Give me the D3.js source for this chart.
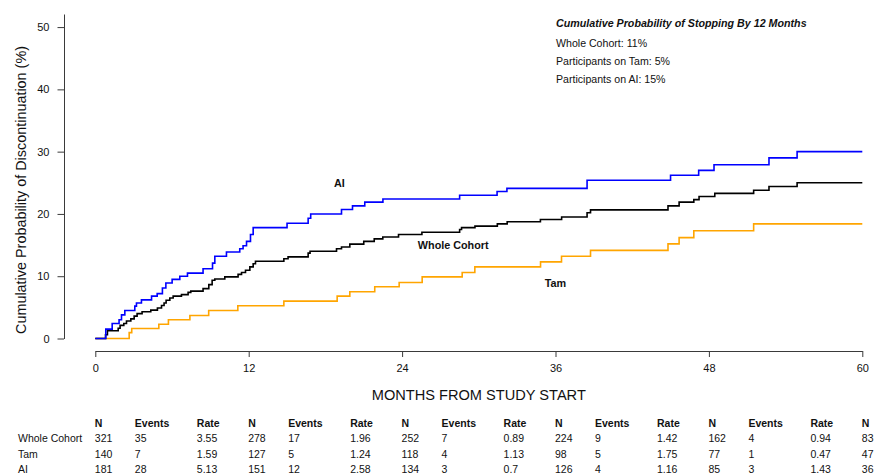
<!DOCTYPE html>
<html>
<head>
<meta charset="utf-8">
<script src="https://cdn.jsdelivr.net/npm/d3@7/dist/d3.min.js"></script>
<style>
  html, body { margin: 0; padding: 0; background: #fff; }
  svg { display: block; font-family: "Liberation Sans", Arial, Helvetica, sans-serif; }
</style>
</head>
<body>
<svg id="chart" width="874" height="476"></svg>
<script>
// Kaplan-Meier style cumulative discontinuation (%) by month
const wholeMonths = [0, 0.80, 0.95, 1.79, 1.94, 2.23, 2.44, 2.78, 3.04, 3.27, 3.66, 4.34, 4.86, 5.18, 5.38, 5.54, 5.83, 6.09, 6.74, 7.26, 7.47, 8.43, 8.88, 9.14, 9.35, 10.13, 11.17, 11.44, 11.75, 12.09, 12.35, 12.53, 14.75, 15.08, 16.65, 16.80, 18.87, 19.26, 19.91, 21.00, 21.82, 22.49, 23.72, 25.55, 28.50, 28.65, 29.70, 31.45, 32.22, 34.82, 36.48, 38.47, 38.74, 44.80, 45.67, 46.82, 47.23, 48.46, 51.50, 52.70, 54.90, 60];
const wholePct    = [0, 0.6, 1.25, 1.65, 2.1, 2.4, 2.8, 3.15, 3.6, 4.0, 4.3, 4.55, 4.9, 5.3, 5.7, 6.15, 6.5, 6.8, 7.05, 7.4, 7.6, 8.0, 8.65, 9.35, 9.55, 9.9, 10.3, 10.6, 10.95, 11.5, 12.0, 12.4, 12.8, 13.1, 13.7, 14.0, 14.4, 14.7, 15.15, 15.6, 16.0, 16.3, 16.7, 17.05, 17.5, 17.8, 18.05, 18.4, 18.75, 19.1, 19.5, 20.2, 20.65, 21.3, 21.9, 22.3, 22.8, 23.3, 23.8, 24.4, 25.0, 25.0];

const tamMonths = [0, 2.65, 2.85, 4.97, 5.72, 7.40, 8.87, 11.15, 14.75, 18.92, 19.91, 21.86, 23.77, 25.57, 28.70, 29.69, 34.83, 36.47, 38.74, 44.80, 45.67, 46.82, 51.50, 60];
const tamPct    = [0, 0.95, 1.6, 2.3, 3.0, 3.7, 4.5, 5.25, 6.0, 6.8, 7.5, 8.3, 9.0, 9.9, 10.6, 11.5, 12.3, 13.2, 14.15, 15.2, 16.2, 17.3, 18.4, 18.4];

const aiMonths = [0, 0.82, 1.32, 1.86, 2.05, 2.31, 3.09, 3.22, 3.61, 4.40, 4.84, 5.25, 5.52, 6.01, 6.61, 7.21, 8.43, 9.17, 9.35, 10.26, 11.30, 11.56, 11.83, 12.14, 12.35, 15.00, 16.65, 16.85, 19.26, 20.12, 21.08, 22.50, 28.50, 31.43, 32.20, 38.47, 45.00, 47.20, 48.40, 52.70, 54.90, 60];
const aiPct    = [0, 1.5, 2.4, 3.0, 3.8, 4.5, 5.2, 5.7, 6.2, 6.8, 7.2, 8.1, 8.9, 9.5, 10.0, 10.5, 11.2, 12.1, 13.2, 13.9, 14.4, 14.9, 15.6, 16.7, 17.8, 18.5, 19.3, 20.0, 20.7, 21.3, 21.9, 22.4, 23.0, 23.6, 24.1, 25.4, 26.2, 27.0, 27.9, 29.0, 30.0, 30.0];

const xTicks = [0, 12, 24, 36, 48, 60];
const yTicks = [0, 10, 20, 30, 40, 50];

// Numbers-at-risk table
const tableGroups = ["Whole Cohort", "Tam", "AI"];
const tableHeaders = ["N", "Events", "Rate"];
const wholeN = [321, 278, 252, 224, 162, 83];
const wholeEvents = [35, 17, 7, 9, 4];
const wholeRate = ["3.55", "1.96", "0.89", "1.42", "0.94"];
const tamN = [140, 127, 118, 98, 77, 47];
const tamEvents = [7, 5, 4, 5, 1];
const tamRate = ["1.59", "1.24", "1.13", "1.75", "0.47"];
const aiN = [181, 151, 134, 126, 85, 36];
const aiEvents = [28, 12, 3, 4, 3];
const aiRate = ["5.13", "2.58", "0.7", "1.16", "1.43"];

const noteTitle = "Cumulative Probability of Stopping By 12 Months";
const noteLines = ["Whole Cohort: 11%", "Participants on Tam: 5%", "Participants on AI: 15%"];

const svg = d3.select("#chart");

const x = d3.scaleLinear().domain([0, 60]).range([95.3, 862.3]);
const y = d3.scaleLinear().domain([0, 52.1]).range([338.5, 14]);

const axisColor = "#3a3a3a";

// x axis
const xAxis = svg.append("g")
  .attr("transform", "translate(0,351)")
  .call(d3.axisBottom(x).tickValues(xTicks).tickSize(6).tickSizeOuter(0).tickPadding(7));
xAxis.selectAll("path, line").attr("stroke", axisColor);
xAxis.selectAll("text").attr("font-size", 11).attr("fill", "#111")
  .attr("font-family", "Liberation Sans, Arial, sans-serif");

// y axis
const yAxis = svg.append("g")
  .attr("transform", "translate(64,0)")
  .call(d3.axisLeft(y).tickValues(yTicks).tickSize(6.5).tickSizeOuter(0).tickPadding(8));
yAxis.selectAll("path, line").attr("stroke", axisColor);
yAxis.selectAll("text").attr("font-size", 11).attr("fill", "#111")
  .attr("font-family", "Liberation Sans, Arial, sans-serif");

// axis titles
svg.append("text")
  .attr("transform", "translate(25.5,190) rotate(-90)")
  .attr("text-anchor", "middle")
  .attr("font-size", 14.4)
  .attr("fill", "#111")
  .text("Cumulative Probability of Discontinuation (%)");

svg.append("text")
  .attr("x", (x(0) + x(60)) / 2)
  .attr("y", 400)
  .attr("text-anchor", "middle")
  .attr("font-size", 14.6)
  .attr("fill", "#111")
  .text("MONTHS FROM STUDY START");

// step curves
const line = d3.line()
  .x(d => x(d[0]))
  .y(d => y(d[1]))
  .curve(d3.curveStepAfter);

const series = [
  { months: tamMonths, pct: tamPct, color: "#ffa500" },
  { months: wholeMonths, pct: wholePct, color: "#000000" },
  { months: aiMonths, pct: aiPct, color: "#0000ff" }
];

series.forEach(s => {
  svg.append("path")
    .datum(d3.zip(s.months, s.pct))
    .attr("fill", "none")
    .attr("stroke", s.color)
    .attr("stroke-width", 1.6)
    .attr("d", line);
});

// curve labels
const curveLabels = [
  { text: "AI", m: 19.1, v: 24.3 },
  { text: "Whole Cohort", m: 28.0, v: 14.4 },
  { text: "Tam", m: 36.0, v: 8.3 }
];
svg.selectAll(".curve-label")
  .data(curveLabels)
  .enter().append("text")
  .attr("class", "curve-label")
  .attr("x", d => x(d.m))
  .attr("y", d => y(d.v))
  .attr("text-anchor", "middle")
  .attr("font-size", 10.8)
  .attr("font-weight", "bold")
  .attr("fill", "#111")
  .text(d => d.text);

// 12-month summary note
const note = svg.append("g").attr("transform", "translate(556,0)");
note.append("text")
  .attr("y", 26.5)
  .attr("font-size", 10.7)
  .attr("font-weight", "bold")
  .attr("font-style", "italic")
  .attr("fill", "#111")
  .text(noteTitle);
note.selectAll(".note-line")
  .data(noteLines)
  .enter().append("text")
  .attr("class", "note-line")
  .attr("y", (d, i) => 47 + i * 18.2)
  .attr("font-size", 10.6)
  .attr("fill", "#111")
  .text(d => d);

// numbers-at-risk table
const table = svg.append("g").attr("font-size", 10.5).attr("fill", "#111");
const headerY = 426.5;
const rowY = [442, 457.5, 473];
const colOffsets = [0, 40, 102];

xTicks.forEach((t, ci) => {
  const cols = ci < xTicks.length - 1 ? tableHeaders : ["N"];
  cols.forEach((h, k) => {
    table.append("text")
      .attr("x", x(t) + colOffsets[k] - 0.5)
      .attr("y", headerY)
      .attr("font-weight", "bold")
      .text(h);
  });
});

const tableRows = [
  { name: tableGroups[0], n: wholeN, ev: wholeEvents, rate: wholeRate },
  { name: tableGroups[1], n: tamN, ev: tamEvents, rate: tamRate },
  { name: tableGroups[2], n: aiN, ev: aiEvents, rate: aiRate }
];

tableRows.forEach((r, ri) => {
  table.append("text").attr("x", 18).attr("y", rowY[ri]).text(r.name);
  xTicks.forEach((t, ci) => {
    table.append("text").attr("x", x(t) + colOffsets[0] - 0.5).attr("y", rowY[ri]).text(r.n[ci]);
    if (ci < r.ev.length) {
      table.append("text").attr("x", x(t) + colOffsets[1] - 0.5).attr("y", rowY[ri]).text(r.ev[ci]);
      table.append("text").attr("x", x(t) + colOffsets[2] - 0.5).attr("y", rowY[ri]).text(r.rate[ci]);
    }
  });
});
</script>
</body>
</html>
